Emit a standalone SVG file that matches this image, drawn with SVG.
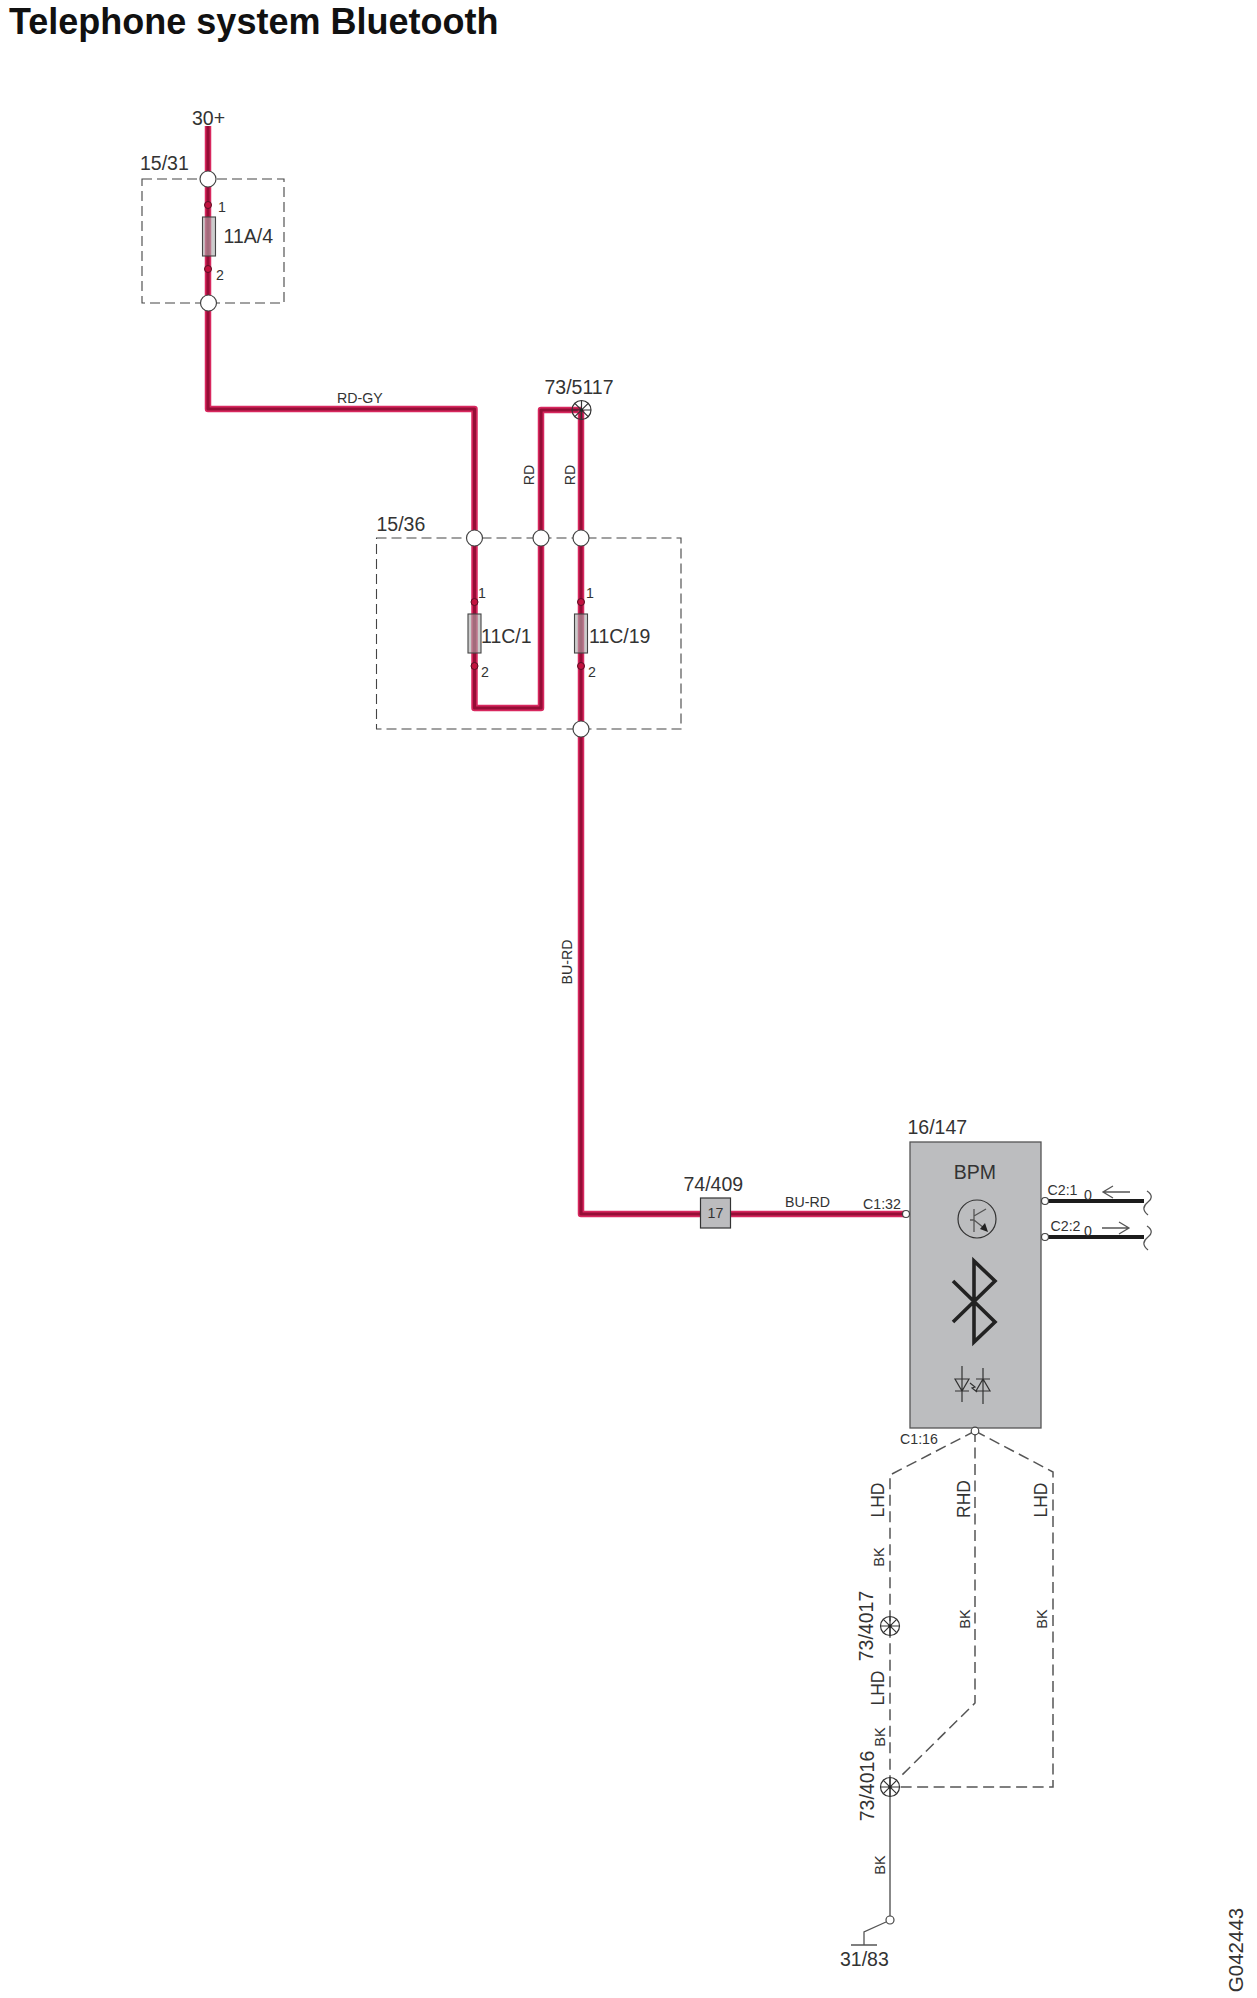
<svg xmlns="http://www.w3.org/2000/svg" width="1257" height="1998" viewBox="0 0 1257 1998">
<style>
text{font-family:"Liberation Sans",Arial,sans-serif;fill:#333}
.t{font-size:19.5px}.s{font-size:14.2px}.p{font-size:14.2px}.b{font-size:14.5px}.l{font-size:17.5px}
.box{fill:none;stroke:#444;stroke-width:1.1;stroke-dasharray:10 5}
.wo{fill:none;stroke:#d8285f;stroke-width:6.5;stroke-linejoin:round}
.wi{fill:none;stroke:#960d36;stroke-width:3.2;stroke-linejoin:round}
.j{fill:#fff;stroke:#444;stroke-width:1.2}
.pin{fill:#c2123f;stroke:#5a1025;stroke-width:1}
.fuse{fill:#aaa;fill-opacity:.6;stroke:#444;stroke-width:1.1}
.g{fill:none;stroke:#333;stroke-width:1.2}
.gd{fill:none;stroke:#555;stroke-width:1.5;stroke-dasharray:11 5.5}
.sym{fill:none;stroke:#333;stroke-width:1.2}
.thin{fill:none;stroke:#555;stroke-width:1.3}
</style>
<defs>
<g id="gnd"><circle r="9.5" class="g"/><path class="g" d="M-9.5 0H9.5M0-9.5V9.5M-6.7-6.7L6.7 6.7M-6.7 6.7L6.7-6.7"/><circle r="1.6" fill="#222"/></g>
<path id="tilde" class="thin" d="M1147 1191C1153 1195 1152 1199 1148 1202C1143 1206 1142 1210 1148 1215"/>
</defs>
<text x="9" y="34" style="font-size:36px;font-weight:bold;fill:#111">Telephone system Bluetooth</text>
<g id="connectors">
<path class="wo" d="M208 126V409H474.500V708H541V410H581"/>
<path class="wi" d="M208 126V409H474.500V708H541V410H581"/>
<path class="wo" d="M581 410V1214H906"/>
<path class="wi" d="M581 410V1214H906"/>
<path d="M1045 1201H1144M1045 1237H1144" fill="none" stroke="#1c1c1c" stroke-width="4"/>
<path class="gd" d="M975 1431L890 1475V1787"/>
<path class="gd" d="M975 1431V1703L899 1778"/>
<path class="gd" d="M975 1431L1053 1472V1787H899"/>
<path d="M890 1787V1916" fill="none" stroke="#888" stroke-width="2"/>
<path class="thin" d="M886 1922L864 1932V1945M851 1945H877"/>
<text class="s" x="337" y="403">RD-GY</text>
<text class="s" transform="translate(534 475) rotate(-90)" text-anchor="middle">RD</text>
<text class="s" transform="translate(575 475) rotate(-90)" text-anchor="middle">RD</text>
<text class="s" transform="translate(572 962) rotate(-90)" text-anchor="middle">BU-RD</text>
<text class="s" x="785" y="1207">BU-RD</text>
<text class="l" transform="translate(884 1500) rotate(-90)" text-anchor="middle">LHD</text>
<text class="l" transform="translate(970 1499) rotate(-90)" text-anchor="middle">RHD</text>
<text class="l" transform="translate(1047 1500) rotate(-90)" text-anchor="middle">LHD</text>
<text class="l" transform="translate(884 1688) rotate(-90)" text-anchor="middle">LHD</text>
<text class="b" transform="translate(884 1557) rotate(-90)" text-anchor="middle">BK</text>
<text class="b" transform="translate(970 1619) rotate(-90)" text-anchor="middle">BK</text>
<text class="b" transform="translate(1047 1619) rotate(-90)" text-anchor="middle">BK</text>
<text class="b" transform="translate(885 1737) rotate(-90)" text-anchor="middle">BK</text>
<text class="b" transform="translate(885 1865) rotate(-90)" text-anchor="middle">BK</text>
</g>
<g id="supply-30"><text class="t" x="192" y="124.500">30+</text></g>
<g id="fusebox-15-31">
<rect class="box" x="142" y="179" width="142" height="124"/>
<circle class="j" cx="208" cy="179" r="8"/><circle class="j" cx="208.500" cy="303" r="8"/>
<rect class="fuse" x="202.500" y="217" width="13" height="39"/>
<circle class="pin" cx="208" cy="205" r="3.500"/><circle class="pin" cx="208" cy="269" r="3.500"/>
<text class="t" x="140" y="170">15/31</text>
<text class="p" x="218" y="212">1</text><text class="p" x="216" y="280">2</text>
<text class="t" x="223.500" y="243">11A/4</text>
</g>
<g id="ground-73-5117">
<use href="#gnd" x="581.500" y="410"/>
<text class="t" x="544.500" y="393.500">73/5117</text>
</g>
<g id="fusebox-15-36">
<rect class="box" x="376.500" y="538" width="304.500" height="191"/>
<circle class="j" cx="474.500" cy="538" r="8"/><circle class="j" cx="541" cy="538" r="8"/><circle class="j" cx="581" cy="538" r="8"/><circle class="j" cx="581" cy="729" r="8"/>
<rect class="fuse" x="468" y="614" width="13" height="39"/><rect class="fuse" x="574.500" y="614" width="13" height="39"/>
<circle class="pin" cx="474.500" cy="602" r="3.500"/><circle class="pin" cx="474.500" cy="666" r="3.500"/>
<circle class="pin" cx="581" cy="602" r="3.500"/><circle class="pin" cx="581" cy="666" r="3.500"/>
<text class="t" x="376.500" y="530.500">15/36</text>
<text class="p" x="478" y="597.500">1</text><text class="p" x="481" y="676.500">2</text>
<text class="p" x="586" y="597.500">1</text><text class="p" x="588" y="676.500">2</text>
<text class="t" x="481" y="643">11C/1</text>
<text class="t" x="589" y="643">11C/19</text>
</g>
<g id="connector-74-409">
<rect x="700.500" y="1198" width="30" height="30" fill="#bcbcbe" stroke="#333" stroke-width="1.200"/>
<text class="p" x="715.500" y="1218" text-anchor="middle">17</text>
<text class="t" x="683.500" y="1190.500">74/409</text>
</g>
<g id="module-16-147">
<rect x="910" y="1142" width="131" height="286" fill="#bcbdbf" stroke="#555" stroke-width="1.300"/>
<text class="t" x="907.500" y="1133.500">16/147</text>
<text class="t" x="975" y="1178.500" text-anchor="middle">BPM</text>
<circle class="sym" cx="977" cy="1219" r="19"/>
<path class="thin" d="M970 1220H974M974 1209V1232M974 1216L986 1209M974 1220L984 1228"/>
<path d="M988 1232L980 1229L985 1223Z" fill="#222"/>
<path d="M953 1281L995 1322L974 1342V1261L995 1281L953 1322" fill="none" stroke="#222" stroke-width="3.600"/>
<path class="sym" d="M962 1366V1402M955 1379H969L962 1391ZM955 1391H969M983 1368V1404M976 1391H990L983 1379ZM976 1379H990M970 1383L975 1387L972 1388L977 1392"/>
<circle class="j" cx="906" cy="1214" r="3.500"/>
<circle class="j" cx="1045" cy="1201" r="3.500"/>
<circle class="j" cx="1045" cy="1237" r="3.500"/>
<circle class="j" cx="975" cy="1431" r="3.800"/>
<text class="p" x="863" y="1209">C1:32</text>
<text class="p" x="1047.500" y="1194.500">C2:1</text>
<text class="p" x="1050.500" y="1230.500">C2:2</text>
<text class="p" x="1088" y="1200" text-anchor="middle">0</text>
<text class="p" x="1088" y="1236" text-anchor="middle">0</text>
<text class="p" x="900" y="1443.500">C1:16</text>
<path class="thin" d="M1130 1192H1103M1113 1186L1103 1192L1113 1198M1102 1228H1129M1119 1222L1129 1228L1119 1234"/>
<use href="#tilde"/><use href="#tilde" y="35"/>
</g>
<g id="ground-73-4017">
<use href="#gnd" x="890" y="1626"/>
<text class="t" transform="translate(872.500 1626) rotate(-90)" text-anchor="middle">73/4017</text>
</g>
<g id="ground-73-4016">
<use href="#gnd" x="890" y="1787"/>
<text class="t" transform="translate(873.500 1786) rotate(-90)" text-anchor="middle">73/4016</text>
</g>
<g id="ground-31-83">
<circle class="j" cx="890" cy="1920" r="4"/>
<text class="t" x="840" y="1965.500">31/83</text>
</g>
<text transform="translate(1243 1950) rotate(-90)" text-anchor="middle" style="font-size:20.500px">G042443</text>
</svg>
